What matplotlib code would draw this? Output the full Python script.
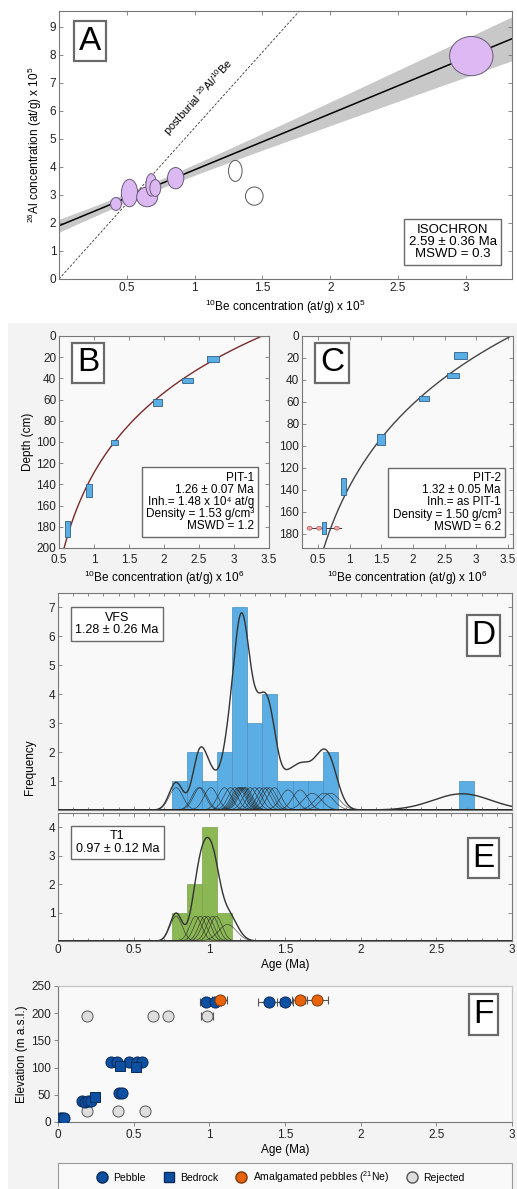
import numpy as np
import matplotlib
matplotlib.use("Agg")
import matplotlib.pyplot as plt
from matplotlib.patches import Ellipse, Rectangle
from matplotlib.lines import Line2D
from matplotlib.ticker import MultipleLocator

plt.rcParams["font.family"] = ["Liberation Sans", "DejaVu Sans"]
plt.rcParams["mathtext.fontset"] = "custom"
plt.rcParams["mathtext.rm"] = "Liberation Sans"
plt.rcParams["mathtext.it"] = "Liberation Sans:italic"
plt.rcParams["mathtext.bf"] = "Liberation Sans:bold"

# ── A: 26Al/10Be isochron ─────────────────────────────────────────────────────
A_BE = [0.42, 0.52, 0.65, 0.68, 0.71, 0.86, 3.04]
A_AL = [2.68, 3.07, 2.93, 3.36, 3.25, 3.60, 7.96]
A_BE_W = [0.08, 0.12, 0.155, 0.08, 0.08, 0.12, 0.32]
A_AL_H = [0.46, 0.98, 0.70, 0.80, 0.60, 0.76, 1.40]
A_REJ_BE = [1.30, 1.44]
A_REJ_AL = [3.86, 2.96]
A_REJ_W = [0.10, 0.13]
A_REJ_H = [0.75, 0.65]
ISO_INT, ISO_SLOPE = 1.9, 2.0
ISO_INT_ERR, ISO_SLOPE_ERR, ISO_XMEAN = 0.16, 0.28, 0.6
POSTBURIAL_RATIO = 5.4

# ── B / C: depth profiles ─────────────────────────────────────────────────────
B_CONC = [2.70, 2.33, 1.91, 1.29, 0.93, 0.62]
B_DEPTH = [21.5, 42, 63, 100.5, 146, 182]
B_CONC_ERR = [0.09, 0.08, 0.065, 0.05, 0.04, 0.03]
B_DEPTH_ERR = [3, 2.5, 3.3, 2.5, 6, 7.5]
B_FIT = (0.2, 3.2, 93.0)          # inheritance, surface, attenuation (cm)

C_CONC = [2.75, 2.63, 2.18, 1.50, 0.91, 0.60]
C_DEPTH = [18, 36, 56.5, 94.5, 137, 175]
C_CONC_ERR = [0.10, 0.095, 0.08, 0.065, 0.04, 0.03]
C_DEPTH_ERR = [3, 2.5, 2.3, 5, 8, 5.5]
C_FIT = (0.0, 3.55, 108.0)
C_PEBBLE_CONC = [0.37, 0.52, 0.80]
C_PEBBLE_DEPTH = 175

# ── D / E: age distributions ──────────────────────────────────────────────────
D_AGES = [0.78, 0.93, 0.94, 1.01, 1.10, 1.14, 1.17, 1.19, 1.20, 1.21, 1.22,
          1.23, 1.24, 1.27, 1.30, 1.33, 1.36, 1.38, 1.40, 1.43, 1.52, 1.60,
          1.68, 1.76, 1.80]
D_SIGMA = [0.045] * 20 + [0.05, 0.05, 0.06, 0.06, 0.06]
D_OLD_AGE, D_OLD_SIGMA, D_OLD_PEAK = 2.67, 0.19, 0.56
D_SUM_H = 0.95

E_AGES = [0.78, 0.91, 0.94, 0.97, 0.99, 1.02, 1.045, 1.12]
E_SIGMA = [0.04] * 7 + [0.06]
E_SUM_H = 0.98
IND_AREA = 0.087
BINS = np.arange(0.75, 2.80, 0.1)

# ── F: elevation vs age ───────────────────────────────────────────────────────
PEB_AGE = [0.01, 0.025, 0.04, 0.16, 0.18, 0.20, 0.22, 0.40, 0.42,
           0.35, 0.39, 0.47, 0.52, 0.555, 0.98, 1.035, 1.395, 1.50]
PEB_ELEV = [8, 8, 8, 38, 37, 38, 38, 54, 54,
            110, 110, 110, 110, 111, 221, 221, 221, 221]
PEB_ERR = [0] * 14 + [0.04, 0.04, 0.075, 0.05]
BED_AGE = [0.243, 0.408, 0.518]
BED_ELEV = [46, 103, 101]
AMA_AGE = [1.07, 1.597, 1.71]
AMA_ELEV = [224, 224, 224]
AMA_ERR = [0.05, 0.05, 0.077]
REJ_AGE = [0.19, 0.397, 0.572, 0.19, 0.628, 0.73, 0.985]
REJ_ELEV = [21, 21, 21, 195, 195, 195, 195]
REJ_ERR = [0, 0, 0, 0, 0, 0, 0.04]

# ── colours ───────────────────────────────────────────────────────────────────
PURPLE = "#dcb9f2"
BLUE_BAR = "#5aaee3"
GREEN_BAR = "#8bb755"
PEB_C = "#0d4fa0"
AMA_C = "#e8630a"
REJ_C = "#dedede"
FRAME = "#777777"
LOW_BG = "#f3f3f3"
AX_BG = "#f9f9f9"

W, H = 517, 1189
fig = plt.figure(figsize=(W / 100, H / 100), dpi=100, facecolor="white")
fig.patches.append(Rectangle((8 / W, 0), 1, (H - 323) / H, transform=fig.transFigure,
                             facecolor=LOW_BG, edgecolor="none", zorder=-10))


def rect(l, r, t, b):
    return [l / W, 1 - b / H, (r - l) / W, (b - t) / H]


def style(ax, direction="in", box=True):
    for s in ax.spines.values():
        s.set_color(FRAME)
        s.set_linewidth(0.8)
    ax.tick_params(which="both", direction=direction, top=box, right=box,
                   colors=FRAME, labelcolor="#222222", labelsize=8.5,
                   length=3, width=0.6, pad=2)
    ax.tick_params(which="minor", length=2)


def panel_label(ax, letter, x, y):
    ax.text(x, y, letter, transform=ax.transAxes, fontsize=24, ha="center",
            va="center", zorder=10,
            bbox=dict(boxstyle="square,pad=0.14", fc="white", ec="#6a6a6a", lw=1.6))


BOX = dict(boxstyle="square,pad=0.35", fc="white", ec="#6a6a6a", lw=1.0)

# ── Panel A ───────────────────────────────────────────────────────────────────
axA = fig.add_axes(rect(59, 512, 11, 279))
style(axA)
axA.set_xlim(0, 3.34)
axA.set_ylim(0, 9.57)
xs = np.linspace(0, 3.34, 300)
line = ISO_INT + ISO_SLOPE * xs
hw = np.sqrt(ISO_INT_ERR ** 2 + (ISO_SLOPE_ERR * (xs - ISO_XMEAN)) ** 2)
axA.fill_between(xs, line - hw, line + hw, color="#c8c8c8", lw=0, zorder=1)
axA.plot(xs, line, color="black", lw=1.1, zorder=2)
axA.plot(xs, POSTBURIAL_RATIO * xs, color="#333333", lw=0.6,
         ls=(0, (3, 2)), zorder=2)
for x, y, w, h in zip(A_BE, A_AL, A_BE_W, A_AL_H):
    axA.add_patch(Ellipse((x, y), w, h, fc=PURPLE, ec="#6a5a7a", lw=0.7, zorder=3))
for x, y, w, h in zip(A_REJ_BE, A_REJ_AL, A_REJ_W, A_REJ_H):
    axA.add_patch(Ellipse((x, y), w, h, fc="white", ec="#555555", lw=0.7, zorder=3))
axA.set_xticks([0.5, 1, 1.5, 2, 2.5, 3])
axA.set_xticklabels(["0.5", "1", "1.5", "2", "2.5", "3"])
axA.set_yticks(range(0, 10))
axA.set_xlabel(r"$^{10}$Be concentration (at/g) x 10$^{5}$", fontsize=8.5, labelpad=3)
axA.set_ylabel(r"$^{26}$Al concentration (at/g) x 10$^{5}$", fontsize=8.5, labelpad=4)
fig.canvas.draw()
p0 = axA.transData.transform((0, 0))
p1 = axA.transData.transform((1, POSTBURIAL_RATIO))
ang = np.degrees(np.arctan2(p1[1] - p0[1], p1[0] - p0[0]))
axA.text(1.03, 6.5, r"postburial $^{26}$Al/$^{10}$Be", rotation=ang,
         rotation_mode="anchor", ha="center", va="center", fontsize=8)
axA.text(0.869, 0.138, "ISOCHRON\n2.59 ± 0.36 Ma\nMSWD = 0.3",
         transform=axA.transAxes, ha="center", va="center", fontsize=9.5,
         linespacing=1.05, bbox=BOX)
panel_label(axA, "A", 0.068, 0.888)


# ── Panels B / C ──────────────────────────────────────────────────────────────
def profile(ax, conc, depth, cerr, derr, fit, color, zmax):
    z = np.linspace(0, zmax, 300)
    inh, surf, att = fit
    ax.plot(inh + surf * np.exp(-z / att), z, color=color, lw=1.0, zorder=2)
    for c, d, ce, de in zip(conc, depth, cerr, derr):
        ax.add_patch(Rectangle((c - ce, d - de), 2 * ce, 2 * de, fc=BLUE_BAR,
                               ec="#2f5f8a", lw=0.6, zorder=3))
    ax.set_xlabel(r"$^{10}$Be concentration (at/g) x 10$^{6}$", fontsize=8.5, labelpad=2)
    ax.tick_params(axis="x", pad=4)


axB = fig.add_axes(rect(59, 269, 336, 548))
axB.set_facecolor(AX_BG)
style(axB)
profile(axB, B_CONC, B_DEPTH, B_CONC_ERR, B_DEPTH_ERR, B_FIT, "#7a2a2a", 200)
axB.set_xlim(0.5, 3.5)
axB.set_ylim(200, 0)
axB.set_xticks(np.arange(0.5, 3.51, 0.5))
axB.set_xticklabels(["0.5", "1", "1.5", "2", "2.5", "3", "3.5"])
axB.set_yticks(range(0, 201, 20))
axB.set_ylabel("Depth (cm)", fontsize=8.5, labelpad=2)
axB.text(0.929, 0.217,
         "PIT-1\n1.26 ± 0.07 Ma\nInh.= 1.48 x 10⁴ at/g\nDensity = 1.53 g/cm³\nMSWD = 1.2",
         transform=axB.transAxes, ha="right", va="center", fontsize=8.5,
         linespacing=1.0, multialignment="right", bbox=BOX)
panel_label(axB, "B", 0.138, 0.873)

axC = fig.add_axes(rect(302, 513, 336, 548))
axC.set_facecolor(AX_BG)
style(axC)
profile(axC, C_CONC, C_DEPTH, C_CONC_ERR, C_DEPTH_ERR, C_FIT, "#444444", 193)
axC.plot([min(C_PEBBLE_CONC) - 0.04, max(C_PEBBLE_CONC) + 0.07],
         [C_PEBBLE_DEPTH] * 2, color="#333333", lw=0.7, zorder=2)
for c in C_PEBBLE_CONC:
    axC.add_patch(Ellipse((c, C_PEBBLE_DEPTH), 0.08, 3.5, fc="#f2a0a0",
                          ec="#b06060", lw=0.5, zorder=2.5))
axC.set_xlim(0.25, 3.58)
axC.set_ylim(193, 0)
axC.set_xticks(np.arange(0.5, 3.51, 0.5))
axC.set_xticklabels(["0.5", "1", "1.5", "2", "2.5", "3", "3.5"])
axC.set_yticks(range(0, 181, 20))
axC.text(0.943, 0.215,
         "PIT-2\n1.32 ± 0.05 Ma\nInh.= as PIT-1\nDensity = 1.50 g/cm³\nMSWD = 6.2",
         transform=axC.transAxes, ha="right", va="center", fontsize=8.5,
         linespacing=1.0, multialignment="right", bbox=BOX)
panel_label(axC, "C", 0.142, 0.873)

# ── Panels D / E ──────────────────────────────────────────────────────────────
ages_x = np.linspace(0, 3, 1500)


def gauss(a, s):
    return np.exp(-(ages_x - a) ** 2 / (2 * s ** 2))


def age_panel(ax, ages, sigmas, sum_h, color, edge, extra=None):
    ax.set_facecolor(AX_BG)
    style(ax)
    ax.hist(ages + ([extra[0]] if extra else []), bins=BINS, color=color,
            edgecolor=edge, linewidth=0.5, zorder=1)
    total = np.zeros_like(ages_x)
    for a, s in zip(ages, sigmas):
        ax.plot(ages_x, IND_AREA / (s * np.sqrt(2 * np.pi)) * gauss(a, s),
                color="#222222", lw=0.5, alpha=0.75, zorder=2)
        total += sum_h * gauss(a, s)
    if extra:
        total += extra[2] * gauss(extra[0], extra[1])
    ax.plot(ages_x, total, color="#333333", lw=1.0, zorder=3)
    ax.set_xlim(0, 3)
    ax.set_xticks(np.arange(0, 3.01, 0.5))
    ax.xaxis.set_minor_locator(MultipleLocator(0.1))


axD = fig.add_axes(rect(58, 512, 593, 810))
age_panel(axD, D_AGES, D_SIGMA, D_SUM_H, BLUE_BAR, "#4a90c0",
          extra=(D_OLD_AGE, D_OLD_SIGMA, D_OLD_PEAK))
axD.set_ylim(0, 7.5)
axD.set_yticks(range(1, 8))
axD.tick_params(labelbottom=False)
axD.text(0.13, 0.857, "VFS\n1.28 ± 0.26 Ma", transform=axD.transAxes,
         ha="center", va="center", fontsize=9, linespacing=1.1, bbox=BOX)
panel_label(axD, "D", 0.937, 0.804)

axE = fig.add_axes(rect(58, 512, 813, 941))
age_panel(axE, E_AGES, E_SIGMA, E_SUM_H, GREEN_BAR, "#7aa54a")
axE.set_ylim(0, 4.5)
axE.set_yticks(range(1, 5))
axE.set_xticklabels(["0", "0.5", "1", "1.5", "2", "2.5", "3"])
axE.set_xlabel("Age (Ma)", fontsize=8.5, labelpad=2)
axE.text(0.131, 0.77, "T1\n0.97 ± 0.12 Ma", transform=axE.transAxes,
         ha="center", va="center", fontsize=9, linespacing=1.1, bbox=BOX)
panel_label(axE, "E", 0.937, 0.648)
fig.text(30 / W, 1 - 767 / H, "Frequency", rotation=90, ha="center",
         va="center", fontsize=8.5)

# ── Panel F ───────────────────────────────────────────────────────────────────
axF = fig.add_axes(rect(58, 512, 986, 1122))
axF.set_facecolor(AX_BG)
style(axF, direction="out", box=False)
axF.spines["top"].set_color("#c0c0c0")
axF.spines["right"].set_color("#c0c0c0")
eb = dict(fmt="none", ecolor="#555555", elinewidth=0.8, capsize=3, capthick=0.8, zorder=2)
axF.errorbar(REJ_AGE, REJ_ELEV, xerr=REJ_ERR, **eb)
axF.errorbar(PEB_AGE, PEB_ELEV, xerr=PEB_ERR, **eb)
axF.errorbar(AMA_AGE, AMA_ELEV, xerr=AMA_ERR, **eb)
axF.plot(REJ_AGE, REJ_ELEV, "o", ms=8, mfc=REJ_C, mec="#555555", mew=0.7, ls="none", zorder=3)
axF.plot(PEB_AGE, PEB_ELEV, "o", ms=8, mfc=PEB_C, mec="#0a2a5a", mew=0.7, ls="none", zorder=4)
axF.plot(BED_AGE, BED_ELEV, "s", ms=7.5, mfc=PEB_C, mec="#0a2a5a", mew=0.7, ls="none", zorder=4)
axF.plot(AMA_AGE, AMA_ELEV, "o", ms=8, mfc=AMA_C, mec="#7a3a10", mew=0.7, ls="none", zorder=5)
axF.set_xlim(0, 3)
axF.set_ylim(0, 250)
axF.set_xticks(np.arange(0, 3.01, 0.5))
axF.set_xticklabels(["0", "0.5", "1", "1.5", "2", "2.5", "3"])
axF.set_yticks(range(0, 251, 50))
axF.set_xlabel("Age (Ma)", fontsize=8.5, labelpad=2)
axF.set_ylabel("Elevation (m a.s.l.)", fontsize=8.5, labelpad=2)
panel_label(axF, "F", 0.937, 0.79)

# ── Legend ────────────────────────────────────────────────────────────────────
fig.patches.append(Rectangle((58 / W, -0.01), 454 / W, (H - 1163) / H + 0.01,
                             transform=fig.transFigure, facecolor=AX_BG,
                             edgecolor="#999999", lw=0.8, zorder=1))
handles = [
    Line2D([], [], marker="o", ls="none", ms=8, mfc=PEB_C, mec="#0a2a5a"),
    Line2D([], [], marker="s", ls="none", ms=7.5, mfc=PEB_C, mec="#0a2a5a"),
    Line2D([], [], marker="o", ls="none", ms=8, mfc=AMA_C, mec="#7a3a10"),
    Line2D([], [], marker="o", ls="none", ms=8, mfc=REJ_C, mec="#555555"),
]
labels = ["Pebble", "Bedrock", "Amalgamated pebbles ($^{21}$Ne)", "Rejected"]
fig.legend(handles, labels, loc="center", bbox_to_anchor=(280 / W, 1 - 1177 / H),
           ncol=4, frameon=False, fontsize=7.5, handletextpad=0.5,
           columnspacing=1.6, handlelength=1.2)

fig.savefig("out.png", dpi=100, facecolor="white")
